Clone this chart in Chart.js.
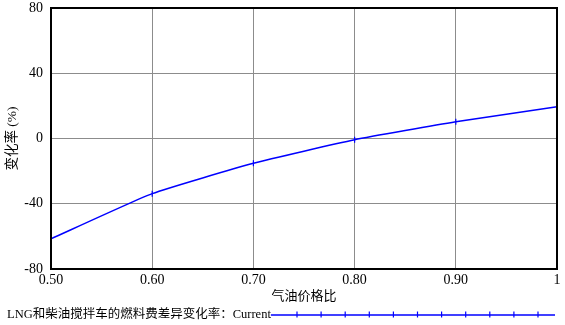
<!DOCTYPE html>
<html><head><meta charset="utf-8">
<script src="https://cdn.jsdelivr.net/npm/chart.js@4"></script>
<style>html,body{margin:0;padding:0;background:#fff}#wrap{width:565px;height:325px}</style>
</head><body><div id="wrap"><canvas id="c" width="565" height="325"></canvas></div>
<script>
const xValues = [0.5, 0.6, 0.7, 0.8, 0.9, 1.0];
const seriesValues = [-61.5, -33.8, -15.2, -0.8, 10.2, 19.5];
const xTickLabels = ['0.50', '0.60', '0.70', '0.80', '0.90', '1'];
const yTickLabels = ['-80', '-40', '0', '40', '80'];
const seriesName = 'LNG和柴油搅拌车的燃料费差异变化率：Current';
const xTitle = '气油价格比';
const yTitle = '变化率 (%)';
const FONT = "'Liberation Serif', 'Noto Sans CJK SC', serif";

const framePlugin = {
  id: 'frame',
  afterDatasetsDraw(chart) {
    const {ctx, chartArea: a} = chart;
    ctx.save();
    ctx.strokeStyle = '#000';
    ctx.lineWidth = 2;
    ctx.strokeRect(a.left, a.top, a.right - a.left, a.bottom - a.top);
    ctx.restore();
  },
  afterDraw(chart) {
    const ctx = chart.ctx;
    ctx.save();
    ctx.font = '12.5px ' + FONT;
    ctx.fillStyle = '#000';
    ctx.textBaseline = 'middle';
    ctx.textAlign = 'left';
    ctx.fillText(seriesName, 7, 315);
    const w = ctx.measureText(seriesName).width;
    const x0 = 7 + w, x1 = 555, y = 315;
    ctx.strokeStyle = '#0000ff';
    ctx.lineWidth = 1.5;
    ctx.beginPath(); ctx.moveTo(x0, y); ctx.lineTo(x1, y); ctx.stroke();
    ctx.lineWidth = 1.2;
    for (let i = 0; i < 11; i++) {
      const tx = 297 + i * 24.1;
      ctx.beginPath(); ctx.moveTo(tx, y - 3.5); ctx.lineTo(tx, y + 2.5); ctx.stroke();
    }
    ctx.restore();
  }
};

new Chart(document.getElementById('c'), {
  type: 'line',
  data: {
    datasets: [{
      label: seriesName,
      data: xValues.map((x, i) => ({x: x, y: seriesValues[i]})),
      borderColor: '#0000ff',
      backgroundColor: '#0000ff',
      borderWidth: 1.5,
      tension: 0.15,
      pointStyle: 'line',
      pointRotation: 90,
      pointRadius: 3,
      pointBorderWidth: 1.2,
      pointBorderColor: '#0000ff',
      clip: false
    }]
  },
  options: {
    responsive: false,
    animation: false,
    devicePixelRatio: 1,
    layout: {padding: {left: 0, right: 8, top: 8, bottom: 21}},
    plugins: {legend: {display: false}, tooltip: {enabled: false}},
    scales: {
      x: {
        type: 'linear', min: 0.5, max: 1.0,
        afterBuildTicks(s) { s.ticks = xValues.map(v => ({value: v})); },
        afterFit(s) { s.height = 35; s.paddingLeft = 0; s.paddingRight = 0; },
        ticks: {
          callback: (v, i) => xTickLabels[i],
          color: '#000', font: {family: FONT, size: 14}, padding: 3, maxRotation: 0, autoSkip: false
        },
        grid: {color: '#8c8c8c', lineWidth: 1, drawTicks: false},
        border: {color: '#000', width: 2},
        title: {display: true, text: xTitle, color: '#000', font: {family: FONT, size: 13}, padding: {top: 0, bottom: 0}}
      },
      y: {
        min: -80, max: 80,
        afterBuildTicks(s) { s.ticks = yTickLabels.map(v => ({value: Number(v)})); },
        afterFit(s) { s.width = 51; s.paddingTop = 0; s.paddingBottom = 0; },
        ticks: {
          callback: (v, i) => yTickLabels[i],
          color: '#000', font: {family: FONT, size: 14}, padding: 8
        },
        grid: {color: '#8c8c8c', lineWidth: 1, drawTicks: false},
        border: {color: '#000', width: 2},
        title: {display: true, text: yTitle, color: '#000', font: {family: FONT, size: 13.5}, padding: {top: 4, bottom: 0}}
      }
    }
  },
  plugins: [framePlugin]
});
</script></body></html>
